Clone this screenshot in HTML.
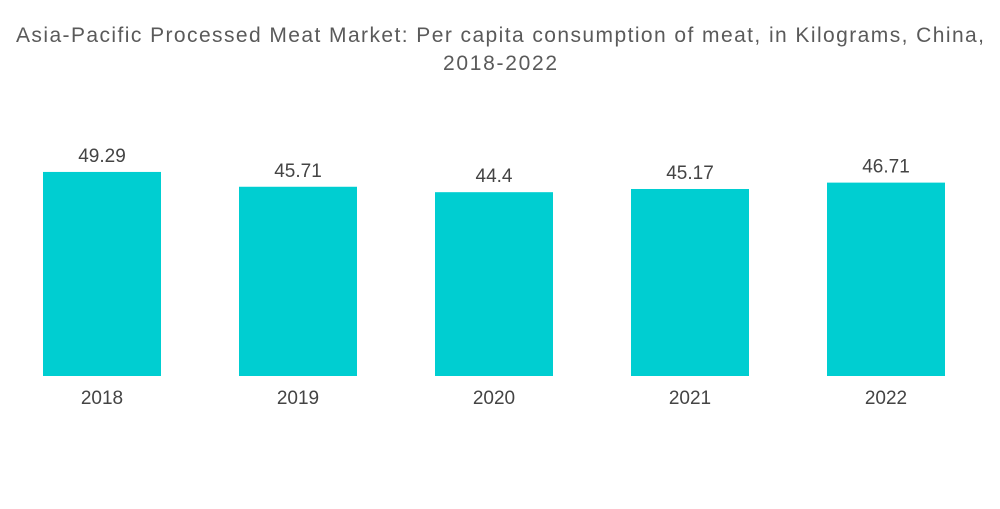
<!DOCTYPE html>
<html><head><meta charset="utf-8"><style>
body{margin:0;background:#fff;width:1000px;height:504px;overflow:hidden;font-family:"Liberation Sans",sans-serif}
</style></head><body>
<svg width="1000" height="504">
<text x="500" y="42" text-anchor="middle" font-size="21" fill="#5a5a5a" textLength="968" lengthAdjust="spacing">Asia-Pacific Processed Meat Market: Per capita consumption of meat, in Kilograms, China,</text>
<text x="500" y="70" text-anchor="middle" font-size="21" fill="#5a5a5a" textLength="114" lengthAdjust="spacing">2018-2022</text>
<g id="bars"></g>
</svg>
<script>
const categories=["2018","2019","2020","2021","2022"];
const values=[49.29,45.71,44.4,45.17,46.71];
const valueLabels=["49.29","45.71","44.4","45.17","46.71"];
const base=376, scale=4.14, x0=43, pitch=196, bw=118;
const y=v=>base-v*scale;
const g=document.getElementById('bars');
const ns="http://www.w3.org/2000/svg";
categories.forEach((c,i)=>{
  const x=x0+i*pitch;
  const r=document.createElementNS(ns,'rect');
  
  
  r.setAttribute('x',x);r.setAttribute('y',y(values[i]));
  r.setAttribute('width',bw);r.setAttribute('height',base-y(values[i]));
  r.setAttribute('fill','#00ced1');g.appendChild(r);
  const t=document.createElementNS(ns,'text');
  
  
  t.setAttribute('x',x+bw/2);t.setAttribute('y',y(values[i])-10);
  t.setAttribute('text-anchor','middle');t.setAttribute('font-size','19');t.setAttribute('fill','#444');
  t.textContent=valueLabels[i];g.appendChild(t);
  const l=document.createElementNS(ns,'text');
  
  
  l.setAttribute('x',x+bw/2);l.setAttribute('y',404);
  l.setAttribute('text-anchor','middle');l.setAttribute('font-size','19');l.setAttribute('fill','#444');
  l.textContent=c;g.appendChild(l);
});
</script>
</body></html>
